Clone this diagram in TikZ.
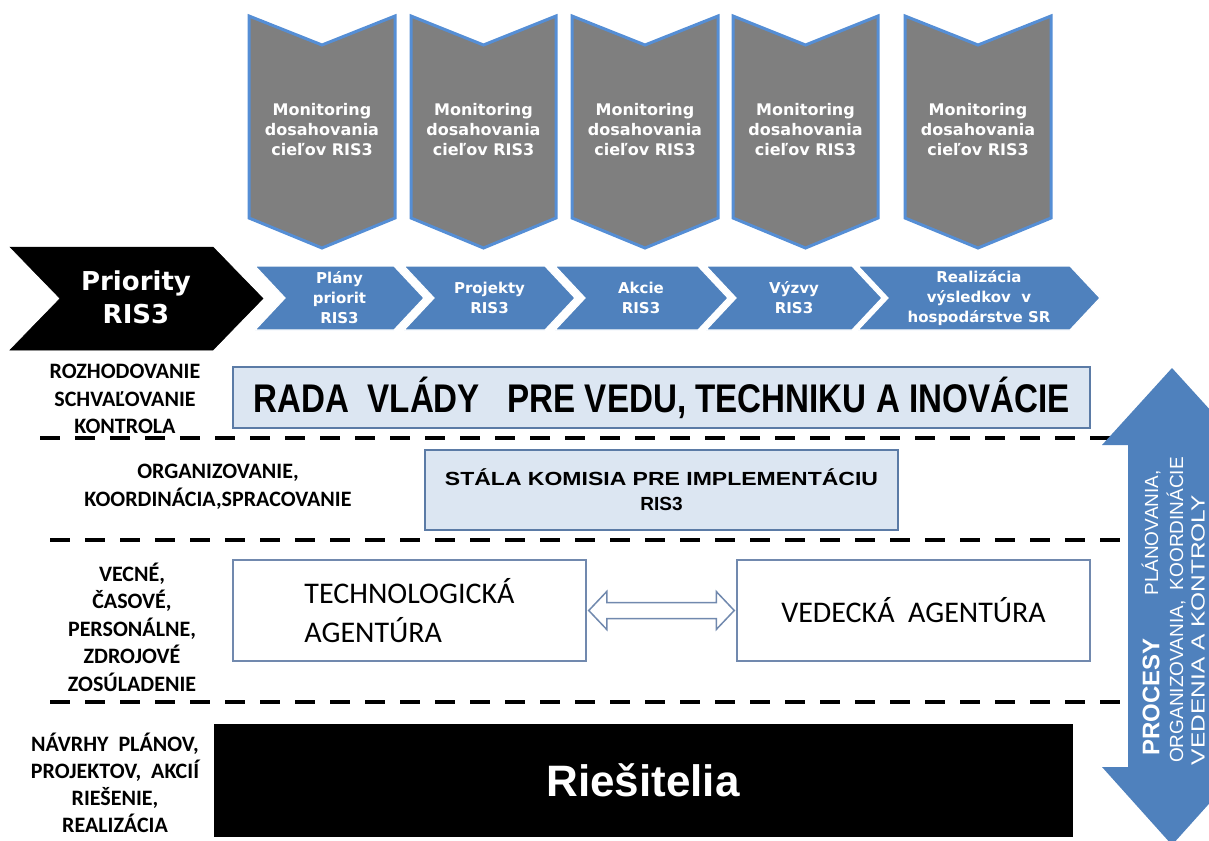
\documentclass[tikz,border=0pt]{standalone}
\usepackage{fontspec}
\setmainfont{Liberation Sans}
\newfontfamily\dvfont{DejaVu Sans}
\newfontfamily\calfont{Carlito}
\usepackage{graphicx}
\usetikzlibrary{calc}
\definecolor{chevblue}{HTML}{4F81BD}
\definecolor{monborder}{HTML}{558ED5}
\definecolor{mongray}{HTML}{7F7F7F}
\definecolor{paleblue}{HTML}{DCE6F2}
\definecolor{slate}{HTML}{5B7BA6}
\definecolor{slatelt}{HTML}{7189AE}
\begin{document}
\begin{tikzpicture}[x=1pt,y=-1pt,
  monchev/.style={fill=mongray, draw=monborder, line width=3pt, line join=miter},
  bluechev/.style={fill=chevblue, draw=white, line width=1.2pt, line join=miter},
  blackchev/.style={fill=black, draw=black, line width=0.5pt},
  montext/.style={text=white, font=\dvfont\bfseries\fontsize{16}{20}\selectfont, align=center, inner sep=0pt},
  chevtext/.style={text=white, font=\dvfont\bfseries\fontsize{15}{20}\selectfont, align=center, inner sep=0pt},
  sidelabel/.style={font=\calfont\bfseries\fontsize{22}{27.5}\selectfont, align=center, inner sep=0pt},
  sepline/.style={line width=4.5pt, dash pattern=on 20pt off 15pt},
  govbox/.style={draw=slate, line width=2pt, fill=paleblue, inner sep=0pt},
  agbox/.style={draw=slatelt, line width=1.5pt, fill=white, inner sep=0pt},
  procarrow/.style={fill=chevblue, draw=none},
  proctext/.style={text=white, rotate=90, inner sep=0pt, font=\fontsize{19}{19}\selectfont},
  dblarrow/.style={draw=slatelt, line width=1.5pt, fill=white, line join=miter}
]
\useasboundingbox (0,0) rectangle (1209,840);

% grey monitoring chevrons
\foreach \L/\R/\n in {249/395/1, 411/556/2, 572/718/3, 733/878/4, 905/1051/5}{
  \draw[monchev] (\L,16) -- ({(\L+\R)/2},45) -- (\R,16) -- (\R,218) -- ({(\L+\R)/2},248) -- (\L,218) -- cycle;
  \node[montext] (mon\n) at ({(\L+\R)/2},130) {Monitoring\\dosahovania\\cieľov RIS3};
}

% Priority chevron
\draw[blackchev] (10,247) -- (213,247) -- (263,298.5) -- (213,350) -- (10,350) -- (60,298.5) -- cycle;
\node[text=white, font=\dvfont\bfseries\fontsize{26}{33}\selectfont, align=center, inner sep=0pt] (prio) at (136,297) {Priority\\RIS3};

% blue process chevrons
\foreach \xl/\xb in {255/394, 404/545, 555/698, 706/852, 858/1070}{
  \draw[bluechev] (\xl,266) -- (\xb,266) -- (\xb+30,298) -- (\xb,330) -- (\xl,330) -- (\xl+30,298) -- cycle;
}
\node[chevtext] (c1) at (339.5,298) {Plány\\priorit\\RIS3};
\node[chevtext] (c2) at (489.5,298) {Projekty\\RIS3};
\node[chevtext] (c3) at (641,298) {Akcie\\RIS3};
\node[chevtext] (c4) at (794,298) {Výzvy\\RIS3};
\node[chevtext] (c5) at (979,298) {Realizácia\\výsledkov\ \ v\\hospodárstve SR};

% separators
\draw[sepline] (40,438) -- (1130,438);
\draw[sepline] (50,540) -- (1130,540);
\draw[sepline] (50,702) -- (1130,702);

% left labels
\node[sidelabel] (l1) at (125,399) {ROZHODOVANIE\\SCHVAĽOVANIE\\KONTROLA};
\node[sidelabel] (l2) at (218,487) {ORGANIZOVANIE,\\KOORDINÁCIA,SPRACOVANIE};
\node[sidelabel] (l3) at (132,627) {VECNÉ,\\ČASOVÉ,\\PERSONÁLNE,\\ZDROJOVÉ\\ZOSÚLADENIE};
\node[sidelabel, font=\calfont\bfseries\fontsize{22}{27}\selectfont] (l4) at (115,783) {NÁVRHY\ \ PLÁNOV,\\PROJEKTOV,\ \ AKCIÍ\\RIEŠENIE,\\REALIZÁCIA};

% government boxes
\node[govbox, minimum width=857pt, minimum height=61pt, font=\bfseries\fontsize{40}{40}\selectfont] (rada) at (661.5,397.5)
  {\resizebox{816pt}{\height}{RADA\ \ VLÁDY\ \ \ PRE VEDU, TECHNIKU A INOVÁCIE}};
\node[govbox, minimum width=473pt, minimum height=80pt, align=center, font=\bfseries\fontsize{19}{25}\selectfont] (komisia) at (661.5,490)
  {\resizebox{433pt}{\height}{STÁLA KOMISIA PRE IMPLEMENTÁCIU}\\RIS3};

% agencies
\node[agbox, minimum width=353pt, minimum height=101pt, align=left, font=\calfont\fontsize{30}{39}\selectfont] (tech) at (409.5,610.5)
  {TECHNOLOGICKÁ\\AGENTÚRA};
\node[agbox, minimum width=353pt, minimum height=101pt, font=\calfont\fontsize{30}{39}\selectfont] (ved) at (913.5,610.5)
  {VEDECKÁ\ \ AGENTÚRA};
\path (tech.east) ++(2,0) coordinate (da1);
\path (ved.west) ++(-2,0) coordinate (da2);
\draw[dblarrow] (da1) -- ($(da1)+(18,-19)$) -- ($(da1)+(18,-8)$) -- ($(da2)+(-18,-8)$) -- ($(da2)+(-18,-19)$) -- (da2)
  -- ($(da2)+(-18,19)$) -- ($(da2)+(-18,8)$) -- ($(da1)+(18,8)$) -- ($(da1)+(18,19)$) -- cycle;

% solvers
\node[fill=black, draw=black, minimum width=858pt, minimum height=112pt, text=white, font=\bfseries\fontsize{44}{44}\selectfont] (ries) at (643,780) {Riešitelia};

% process arrow
\begin{scope}
\clip (0,0) rectangle (1209,840);
\fill[procarrow] (1172,368) -- (1242,445) -- (1216,445) -- (1216,767) -- (1242,767) -- (1172,845)
  -- (1102,767) -- (1128,767) -- (1128,445) -- (1102,445) -- cycle;
\node[proctext] (pa) at (1151,697) {\bfseries\fontsize{24}{24}\selectfont PROCESY};
\node[proctext] (pb) at (1151,533) {PLÁNOVANIA,};
\node[proctext] (pc) at (1176,610) {ORGANIZOVANIA,\ \ KOORDINÁCIE};
\node[proctext] (pd) at (1198,630) {\resizebox{270pt}{\height}{VEDENIA A KONTROLY}};
\end{scope}
\end{tikzpicture}
\end{document}
